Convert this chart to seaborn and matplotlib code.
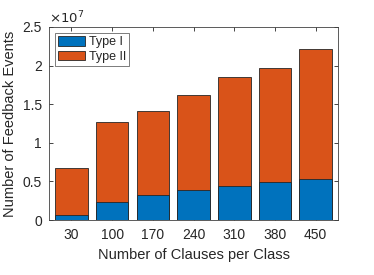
import matplotlib
matplotlib.use("Agg")
import matplotlib.pyplot as plt
import seaborn as sns
import pandas as pd

clauses = ["30", "100", "170", "240", "310", "380", "450"]
type_i = [0.06e7, 0.237e7, 0.32e7, 0.385e7, 0.445e7, 0.488e7, 0.527e7]
type_ii = [0.61e7, 1.033e7, 1.09e7, 1.235e7, 1.411e7, 1.482e7, 1.688e7]

df = pd.DataFrame({"clauses": clauses, "type_i": type_i, "type_ii": type_ii})
df["total"] = df["type_i"] + df["type_ii"]

sns.set_style("white")
plt.rcParams["font.family"] = ["Liberation Sans", "DejaVu Sans"]

fig = plt.figure(figsize=(3.74, 2.75), dpi=100)
ax = fig.add_axes([0.131, 0.2, 0.773, 0.702])

blue = "#0072BD"
orange = "#D95319"
sns.barplot(data=df, x="clauses", y="total", color=orange, width=0.8,
            edgecolor="#262626", linewidth=0.6, ax=ax, label="Type II", saturation=1)
sns.barplot(data=df, x="clauses", y="type_i", color=blue, width=0.8,
            edgecolor="#262626", linewidth=0.6, ax=ax, label="Type I", saturation=1)

ax.set_xlim(-0.55, 6.55)
ax.set_ylim(0, 2.5e7)
yt = [0, 0.5e7, 1e7, 1.5e7, 2e7, 2.5e7]
ax.set_yticks(yt)
ax.set_yticklabels(["0", "0.5", "1", "1.5", "2", "2.5"])
ax.text(0.0, 1.005, r"$\times10^{7}$", transform=ax.transAxes, fontsize=9.5,
        color="#262626", ha="left", va="bottom")

ax.set_xlabel("Number of Clauses per Class", fontsize=10.5, color="#262626", labelpad=4)
ax.set_ylabel("Number of Feedback Events", fontsize=10.5, color="#262626", labelpad=4)
ax.tick_params(axis="both", which="both", direction="in", length=3,
               top=True, right=True, bottom=True, left=True,
               labelsize=10, colors="#262626", width=0.6)
ax.tick_params(axis="x", pad=6)
ax.tick_params(axis="y", pad=5)
for s in ax.spines.values():
    s.set_color("#404040")
    s.set_linewidth(0.6)

h, l = ax.get_legend_handles_labels()
order = [l.index("Type I"), l.index("Type II")]
leg = ax.legend([h[i] for i in order], [l[i] for i in order], loc="upper left",
                fontsize=9, frameon=True, fancybox=False, edgecolor="#404040",
                handlelength=2.2, handleheight=0.85, borderpad=0.25,
                labelspacing=0.2, handletextpad=0.3, borderaxespad=0.45)
leg.get_frame().set_linewidth(0.6)

fig.savefig("out.png", dpi=100)
